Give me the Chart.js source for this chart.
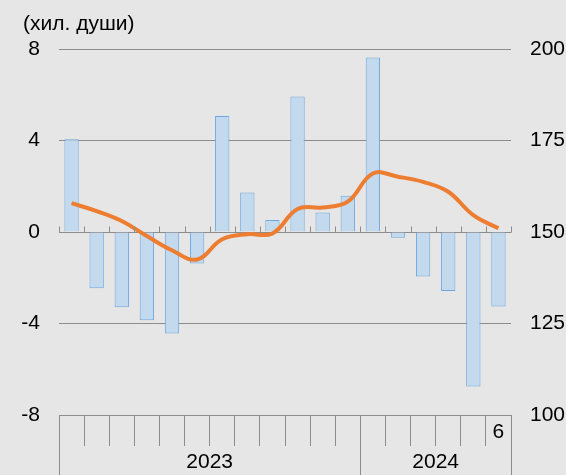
<!DOCTYPE html>
<html lang="bg">
<head>
    <meta charset="UTF-8">
    <title>Изменение на заетите</title>
    <script src="https://cdn.jsdelivr.net/npm/chart.js@4.4.3/dist/chart.umd.min.js"></script>
    <style>
        html, body { margin: 0; padding: 0; background: #e6e6e6; }
        canvas { display: block; }
    </style>
</head>
<body>
    <canvas id="chart" width="566" height="475"></canvas>

    <script>
        // Месеци: 2023 (1-12) и 2024 (1-6)
        const months = ['1','2','3','4','5','6','7','8','9','10','11','12','1','2','3','4','5','6'];
        // Изменение (хил. души) - лява ос
        const changeValues = [4.05, -2.46, -3.29, -3.86, -4.44, -1.38, 5.07, 1.73, 0.52, 5.92, 0.85, 1.59,
                              7.63, -0.25, -1.94, -2.58, -6.75, -3.26];
        // Ниво - дясна ос
        const levelValues = [157.9, 155.7, 153.0, 148.9, 145.0, 142.5, 148.0, 149.4, 149.6, 156.3, 156.7, 158.3,
                             166.0, 165.1, 163.7, 161.0, 154.6, 151.0];
        const years = ['2023', '2024'];
        const yearStart = [0, 12];
        const lastTickLabel = '6';

        const gridColor = '#8c8c8c';
        const fontFamily = '"Liberation Sans", Arial, sans-serif';
        const fontSize = 21;

        // Допълнителни елементи: нулева линия с чертички, разделители и години
        const framePlugin = {
            id: 'frame',
            afterDraw(chart) {
                const ctx = chart.ctx;
                const x = chart.scales.x;
                const y = chart.scales.y;
                const area = chart.chartArea;
                const n = months.length;
                const y0 = Math.round(y.getPixelForValue(0)) + 0.5;

                ctx.save();
                ctx.strokeStyle = gridColor;
                ctx.lineWidth = 1;

                // чертички над нулевата линия
                ctx.beginPath();
                for (let i = 0; i <= n; i++) {
                    const px = Math.round(x.getPixelForValue(i - 0.5)) + 0.5;
                    ctx.moveTo(px, y0 - 6);
                    ctx.lineTo(px, y0);
                }
                ctx.stroke();

                // разделители между годините
                const bounds = yearStart.concat([n]);
                ctx.beginPath();
                bounds.forEach(b => {
                    const px = Math.round(x.getPixelForValue(b - 0.5)) + 0.5;
                    ctx.moveTo(px, area.bottom);
                    ctx.lineTo(px, chart.height);
                });
                ctx.stroke();

                // години
                ctx.fillStyle = '#000';
                ctx.font = fontSize + 'px ' + fontFamily;
                ctx.textAlign = 'center';
                ctx.textBaseline = 'middle';
                years.forEach((yr, i) => {
                    const end = i + 1 < yearStart.length ? yearStart[i + 1] : n;
                    const mid = (yearStart[i] + end - 1) / 2;
                    ctx.fillText(yr, x.getPixelForValue(mid), 462);
                });

                // мерна единица
                ctx.textAlign = 'left';
                ctx.fillText('(хил. души)', 23, 24);
                ctx.restore();
            }
        };

        new Chart(document.getElementById('chart'), {
            type: 'bar',
            data: {
                labels: months,
                datasets: [{
                    type: 'line',
                    data: levelValues,
                    yAxisID: 'y1',
                    borderColor: '#ed7d31',
                    borderWidth: 4,
                    pointRadius: 0,
                    tension: 0.4,
                    order: 0
                }, {
                    data: changeValues,
                    yAxisID: 'y',
                    backgroundColor: '#c2d9ee',
                    borderColor: '#6fa6de',
                    borderWidth: 1,
                    barPercentage: 0.57,
                    categoryPercentage: 1,
                    order: 1
                }]
            },
            options: {
                responsive: false,
                animation: false,
                layout: { padding: { top: 49, left: 0, right: 0, bottom: 0 } },
                plugins: {
                    legend: { display: false },
                    tooltip: { enabled: false }
                },
                scales: {
                    x: {
                        afterFit: s => { s.height = 60; },
                        grid: {
                            offset: true,
                            drawOnChartArea: false,
                            drawTicks: true,
                            tickLength: 31,
                            color: gridColor
                        },
                        border: { display: true, color: gridColor },
                        ticks: {
                            autoSkip: false,
                            maxRotation: 0,
                            padding: -26,
                            color: '#000',
                            font: { size: fontSize, family: fontFamily },
                            callback: (v, i) => i === months.length - 1 ? lastTickLabel : ''
                        }
                    },
                    y: {
                        position: 'left',
                        min: -8,
                        max: 8,
                        afterFit: s => { s.width = 59; },
                        grid: { color: gridColor, drawTicks: false },
                        border: { display: false },
                        ticks: {
                            stepSize: 4,
                            padding: 19,
                            color: '#000',
                            font: { size: fontSize, family: fontFamily }
                        }
                    },
                    y1: {
                        position: 'right',
                        min: 100,
                        max: 200,
                        afterFit: s => { s.width = 55; },
                        grid: { display: false, drawTicks: false },
                        border: { display: false },
                        ticks: {
                            stepSize: 25,
                            padding: 19,
                            color: '#000',
                            font: { size: fontSize, family: fontFamily }
                        }
                    }
                }
            },
            plugins: [framePlugin]
        });
    </script>
</body>
</html>
